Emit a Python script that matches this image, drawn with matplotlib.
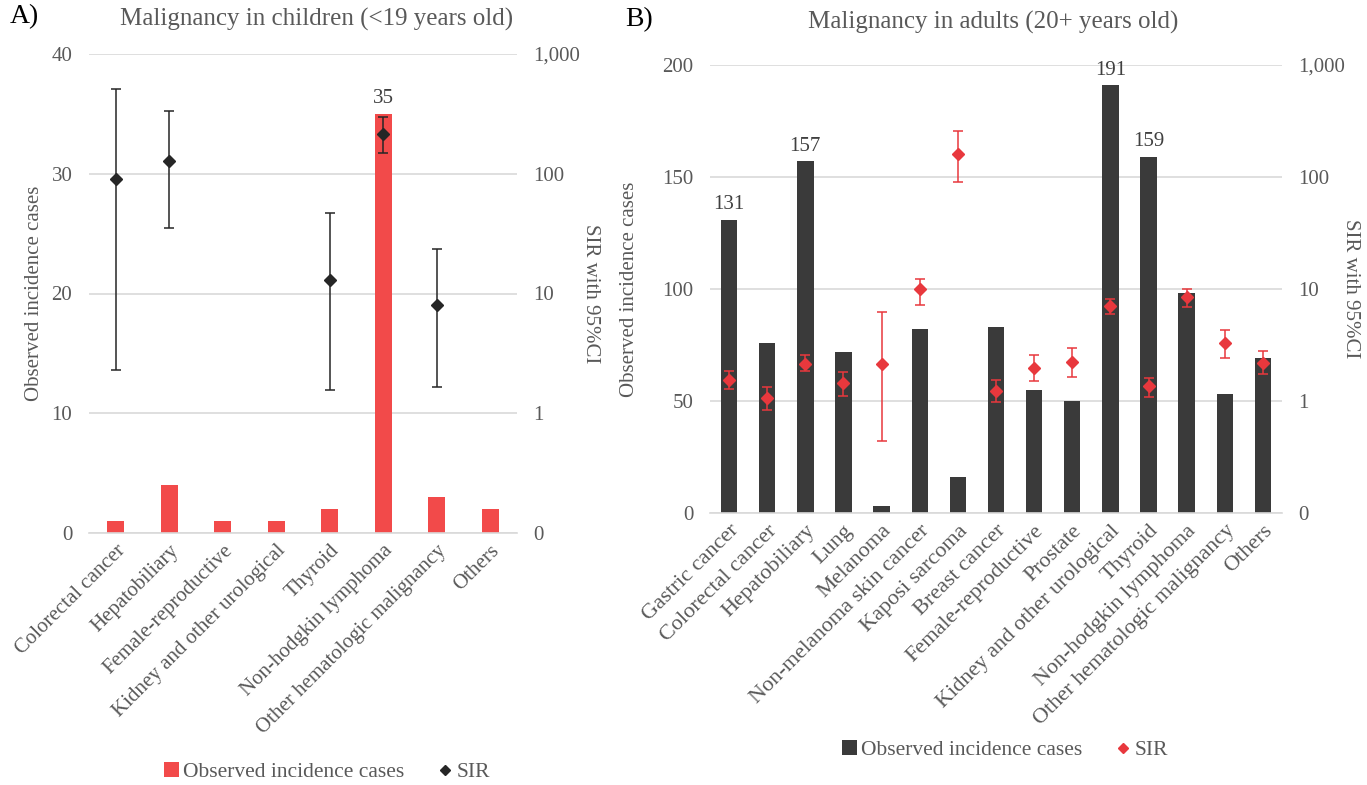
import matplotlib
matplotlib.use("Agg")
import matplotlib.pyplot as plt
import numpy as np
from matplotlib.ticker import FixedLocator, FixedFormatter, NullLocator
from matplotlib.lines import Line2D
from matplotlib.patches import Patch

plt.rcParams['font.family'] = ['Liberation Serif', 'DejaVu Serif']

# ---------------- Data ----------------
child_categories = ["Colorectal cancer", "Hepatobiliary", "Female-reproductive",
                    "Kidney and other urological", "Thyroid", "Non-hodgkin lymphoma",
                    "Other hematologic malignancy", "Others"]
child_cases = [1, 4, 1, 1, 2, 35, 3, 2]
child_sir = [91, 128, None, None, 12.9, 213, 8.0, None]
child_sir_low = [2.28, 35.2, None, None, 1.57, 149, 1.66, None]
child_sir_high = [510, 336, None, None, 46.7, 298, 23.5, None]
child_labelled = ["Non-hodgkin lymphoma"]

adult_categories = ["Gastric cancer", "Colorectal cancer", "Hepatobiliary", "Lung", "Melanoma",
                    "Non-melanoma skin cancer", "Kaposi sarcoma", "Breast cancer",
                    "Female-reproductive", "Prostate", "Kidney and other urological",
                    "Thyroid", "Non-hodgkin lymphoma", "Other hematologic malignancy", "Others"]
adult_cases = [131, 76, 157, 72, 3, 82, 16, 83, 55, 50, 191, 159, 98, 53, 69]
adult_sir = [1.55, 1.07, 2.16, 1.44, 2.13, 10.0, 159, 1.23, 1.96, 2.25, 7.03, 1.37, 8.40, 3.28, 2.19]
adult_sir_low = [1.29, 0.83, 1.84, 1.10, 0.44, 7.27, 90, 0.97, 1.50, 1.64, 6.04, 1.09, 6.93, 2.44, 1.76]
adult_sir_high = [1.86, 1.32, 2.55, 1.82, 6.25, 12.3, 259, 1.53, 2.56, 2.98, 8.17, 1.62, 10.1, 4.32, 2.82]
adult_labelled = ["Gastric cancer", "Hepatobiliary", "Kidney and other urological", "Thyroid"]

sir_ticks = [0.1, 1, 10, 100, 1000]
sir_tick_labels = ["0", "1", "10", "100", "1,000"]

TXT = "#595959"
GRID = "#d9d9d9"
RED = "#f24a4a"
DARK = "#3a3a3a"
SIR_CHILD = "#262626"
SIR_ADULT = "#e8383d"

FS = 15
FS_LEG = 15.5

fig = plt.figure(figsize=(13.67, 7.85), dpi=100)


def panel(rect, cats, cases, sir, lo, hi, labelled, ymax, ystep, bar_color, sir_color,
          barw, xfs, title, title_x, title_y, tag, tag_x, tag_y, ylab_x, sirlab_x,
          leg_x, leg_y):
    ax = fig.add_axes(rect)
    x = np.arange(len(cats))
    ax.bar(x, cases, width=barw, color=bar_color, zorder=2)
    ax.set_xlim(-0.5, len(cats) - 0.5)
    ax.set_ylim(0, ymax)
    ax.set_yticks(np.arange(0, ymax + 1, ystep))
    ax.grid(axis='y', color=GRID, linewidth=1.2, zorder=0)
    ax.set_axisbelow(True)
    for s in ax.spines.values():
        s.set_visible(False)
    ax.spines['bottom'].set_visible(True)
    ax.spines['bottom'].set_color(GRID)
    ax.spines['bottom'].set_linewidth(1.2)
    ax.tick_params(axis='y', length=0, pad=12, labelsize=FS, labelcolor=TXT)
    ax.tick_params(axis='x', length=0, pad=6, labelsize=xfs, labelcolor=TXT)
    ax.set_xticks(x)
    ax.set_xticklabels(cats, rotation=45, ha='right', rotation_mode='anchor')
    for i, c in enumerate(cats):
        if c in labelled:
            ax.text(i, cases[i] + ymax * 0.012, str(cases[i]), ha='center', va='bottom',
                    fontsize=FS, color="#404040")

    ax2 = ax.twinx()
    ax2.set_yscale('log')
    ax2.set_ylim(0.1, 1000)
    ax2.yaxis.set_major_locator(FixedLocator(sir_ticks))
    ax2.yaxis.set_major_formatter(FixedFormatter(sir_tick_labels))
    ax2.yaxis.set_minor_locator(NullLocator())
    for s in ax2.spines.values():
        s.set_visible(False)
    ax2.tick_params(axis='y', length=0, pad=12, labelsize=FS, labelcolor=TXT)
    for i in range(len(cats)):
        if sir[i] is None:
            continue
        ax2.errorbar([x[i]], [sir[i]],
                     yerr=[[sir[i] - lo[i]], [hi[i] - sir[i]]],
                     fmt='D', color=sir_color, ecolor=sir_color, markersize=6,
                     elinewidth=1.1, capsize=3.5, capthick=1.1, zorder=5)

    fig.text(title_x, title_y, title, ha='center', va='center', fontsize=18, color=TXT)
    fig.text(tag_x, tag_y, tag, ha='left', va='center', fontsize=20, color='black')
    cy = rect[1] + rect[3] / 2
    fig.text(ylab_x, cy, "Observed incidence cases", rotation=90, ha='center', va='center',
             fontsize=FS, color=TXT)
    fig.text(sirlab_x, cy, "SIR with 95%CI", rotation=270, ha='center', va='center',
             fontsize=FS, color=TXT)
    handles = [Patch(facecolor=bar_color, edgecolor='none'),
               Line2D([], [], marker='D', linestyle='none', color=sir_color, markersize=5)]
    fig.legend(handles, ["Observed incidence cases", "SIR"], loc='center',
               bbox_to_anchor=(leg_x, leg_y), ncol=2, frameon=False, fontsize=FS_LEG,
               labelcolor=TXT, handlelength=0.7, handleheight=0.7, handletextpad=0.2,
               columnspacing=1.5)
    return ax, ax2


W, H = 1367, 785
panel([89 / W, (H - 533) / H, 428 / W, 479 / H], child_categories, child_cases, child_sir,
      child_sir_low, child_sir_high, child_labelled, 40, 10, RED, SIR_CHILD, 0.31, 15,
      "Malignancy in children (<19 years old)", 317 / W, 1 - 19 / H,
      "A)", 10 / W, 1 - 17 / H, 35 / W, 591 / W, 327 / W, 1 - 772 / H)

panel([710 / W, (H - 513) / H, 572 / W, 448 / H], adult_categories, adult_cases, adult_sir,
      adult_sir_low, adult_sir_high, adult_labelled, 200, 50, DARK, SIR_ADULT, 0.43, 16,
      "Malignancy in adults (20+ years old)", 993 / W, 1 - 22 / H,
      "B)", 625 / W, 1 - 20 / H, 629 / W, 1350 / W, 1005 / W, 1 - 750 / H)

fig.savefig("out.png", dpi=100)
